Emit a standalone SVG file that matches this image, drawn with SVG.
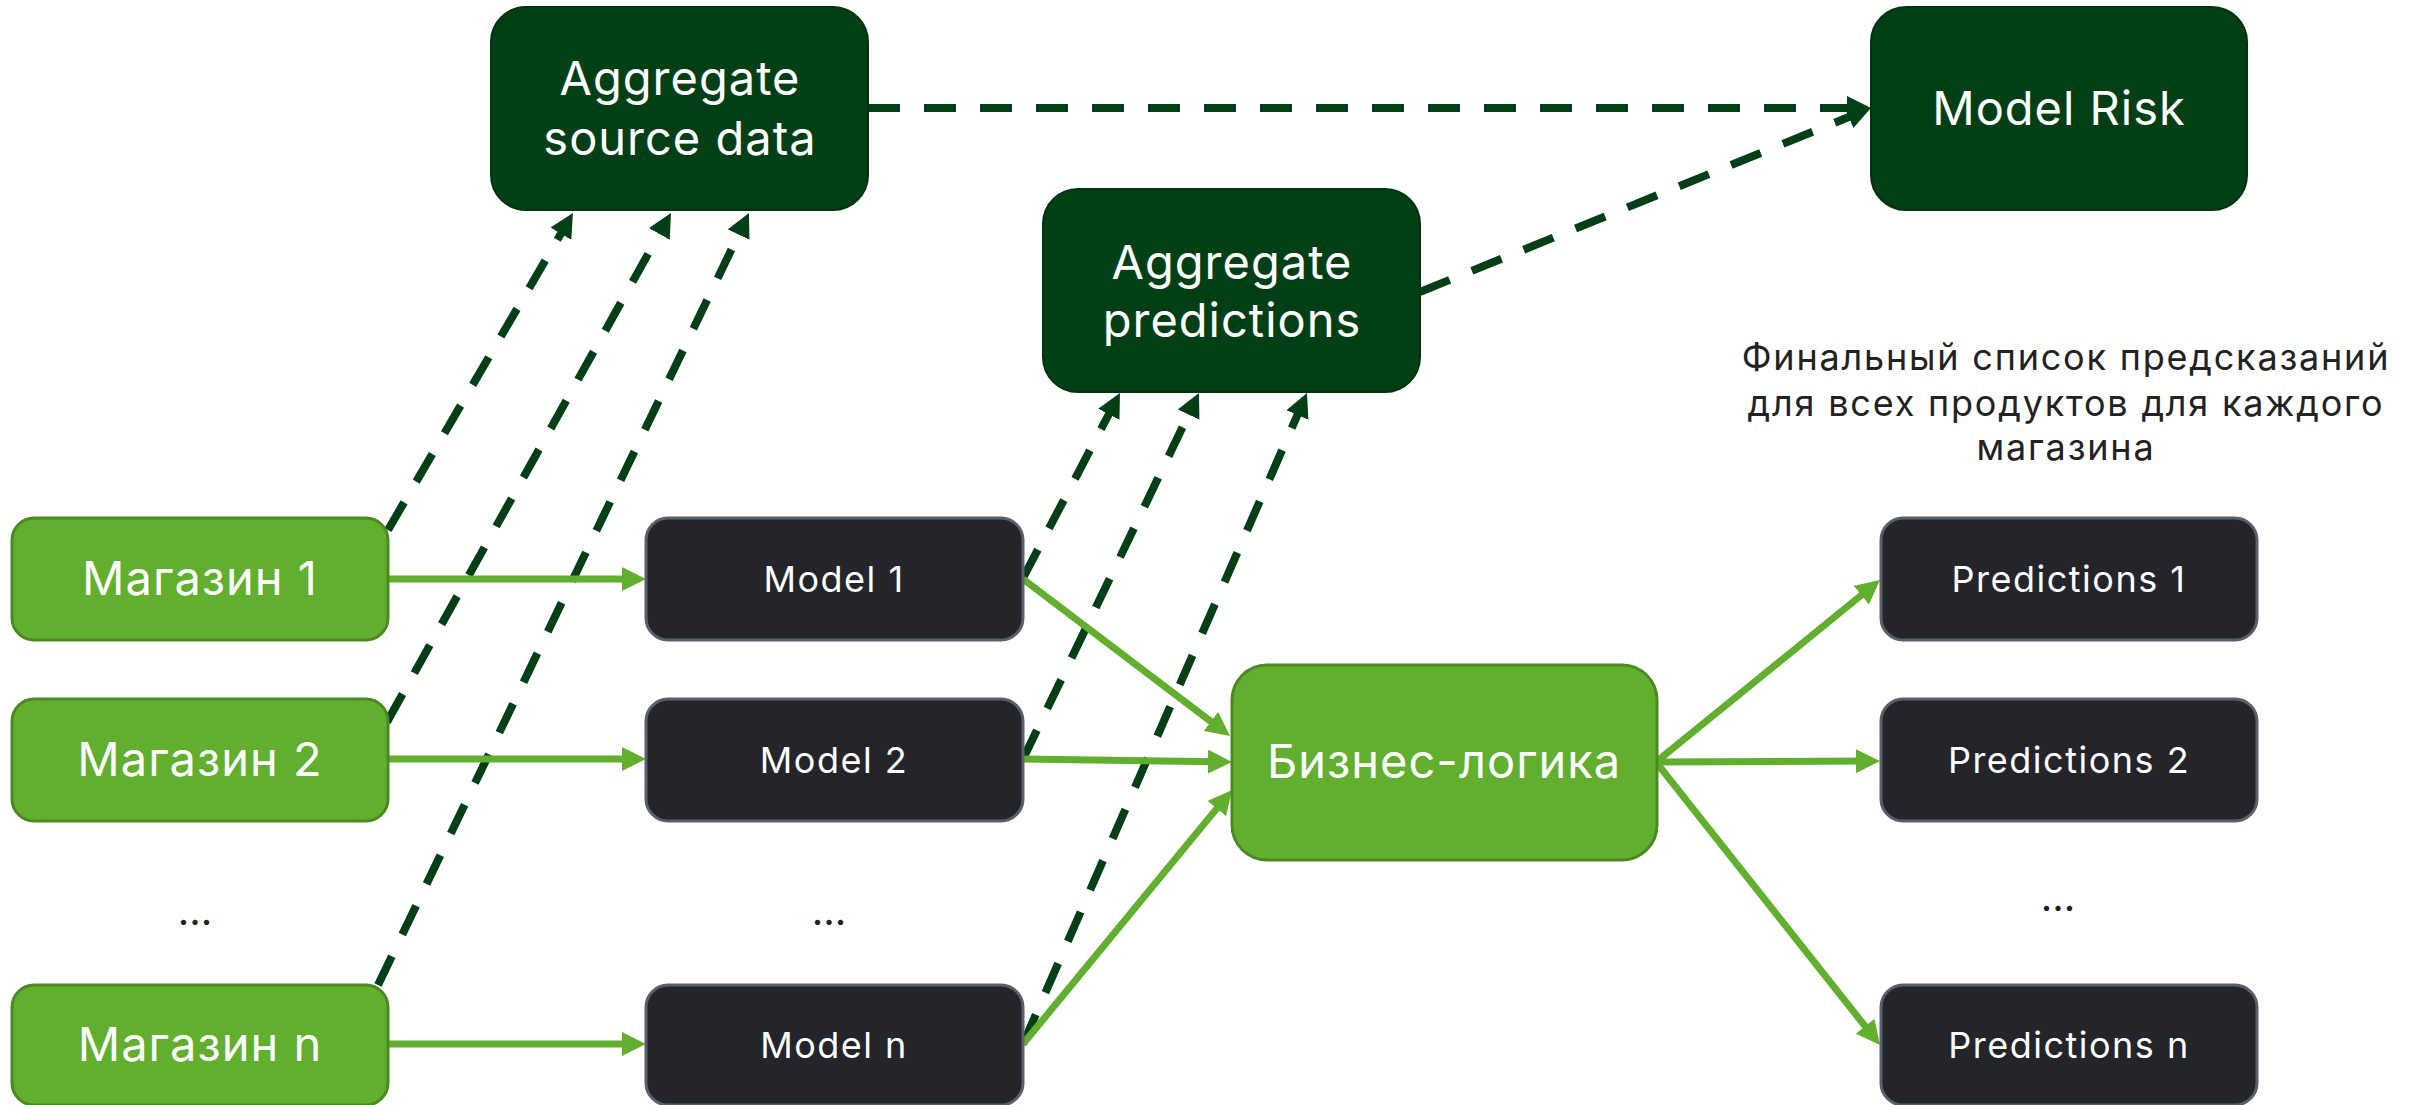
<svg xmlns="http://www.w3.org/2000/svg" width="2409" height="1105" viewBox="0 0 2409 1105">
<defs>
<style>
.dk{fill:#023f16;stroke:#01330f;stroke-width:2}
.lg{fill:#62ae2f;stroke:#4b8a22;stroke-width:3}
.bx{fill:#24252a;stroke:#5a606b;stroke-width:3}
.t{font-family:Inter,"Noto Sans",sans-serif;fill:#ffffff;text-anchor:middle}
.big{font-size:47px;letter-spacing:1px}
.sm{font-size:36px;letter-spacing:1.5px}
.cap{font-family:Inter,"Noto Sans",sans-serif;fill:#222222;font-size:36px;letter-spacing:1.8px;text-anchor:middle}
.dots{font-family:Inter,"Noto Sans",sans-serif;fill:#222222;font-size:40px;text-anchor:middle}
.g{stroke:#62ae2f;stroke-width:7;fill:none}
.d{stroke:#023f16;stroke-width:8;fill:none;stroke-dasharray:32 24}
</style>
<marker id="ag" markerUnits="userSpaceOnUse" markerWidth="24" markerHeight="24" refX="6" refY="12" orient="auto"><path d="M0,0 L24,12 L0,24 z" fill="#62ae2f"/></marker>
<marker id="ad" markerUnits="userSpaceOnUse" markerWidth="24" markerHeight="24" refX="6" refY="12" orient="auto"><path d="M0,0 L24,12 L0,24 z" fill="#023f16"/></marker>
</defs>
<rect width="2409" height="1105" fill="#ffffff"/>
<g id="connectors">
<line class="d" x1="388" y1="530" x2="563.9" y2="228.5" marker-end="url(#ad)"/>
<line class="d" x1="387" y1="722" x2="662.2" y2="228.7" marker-end="url(#ad)"/>
<line class="d" x1="378" y1="985" x2="741.2" y2="229.2" marker-end="url(#ad)"/>
<line class="d" x1="1023" y1="578" x2="1111.6" y2="409" marker-end="url(#ad)"/>
<line class="d" x1="1023" y1="759" x2="1191.2" y2="409.2" marker-end="url(#ad)"/>
<line class="d" x1="1023" y1="1044" x2="1299.8" y2="409.5" marker-end="url(#ad)"/>
<line class="d" x1="868" y1="108" x2="1853" y2="108" marker-end="url(#ad)"/>
<line class="d" x1="1420" y1="292" x2="1854.3" y2="114.8" marker-end="url(#ad)"/>
<line class="g" x1="388" y1="579" x2="628" y2="579" marker-end="url(#ag)"/>
<line class="g" x1="388" y1="759" x2="628" y2="759" marker-end="url(#ag)"/>
<line class="g" x1="388" y1="1044" x2="628" y2="1044" marker-end="url(#ag)"/>
<line class="g" x1="1023" y1="579" x2="1215.7" y2="725.1" marker-end="url(#ag)"/>
<line class="g" x1="1023" y1="759" x2="1214" y2="761.7" marker-end="url(#ag)"/>
<line class="g" x1="1023" y1="1044" x2="1220.6" y2="803.9" marker-end="url(#ag)"/>
<line class="g" x1="1656" y1="762" x2="1866" y2="591.4" marker-end="url(#ag)"/>
<line class="g" x1="1656" y1="762" x2="1862" y2="761.1" marker-end="url(#ag)"/>
<line class="g" x1="1656" y1="762" x2="1868.8" y2="1030.9" marker-end="url(#ag)"/>
</g>
<g id="agg-source"><rect class="dk" x="491" y="7" width="377" height="203" rx="35"/><text class="t big" x="680" y="95">Aggregate</text><text class="t big" x="680" y="155">source data</text></g>
<g id="agg-pred"><rect class="dk" x="1043" y="189" width="377" height="203" rx="35"/><text class="t big" x="1232" y="279">Aggregate</text><text class="t big" x="1232" y="337">predictions</text></g>
<g id="model-risk"><rect class="dk" x="1871" y="7" width="376" height="203" rx="35"/><text class="t big" x="2059" y="125">Model Risk</text></g>
<g id="shop1"><rect class="lg" x="12" y="518" width="376" height="122" rx="22"/><text class="t big" x="200" y="595">Магазин 1</text></g>
<g id="shop2"><rect class="lg" x="12" y="699" width="376" height="122" rx="22"/><text class="t big" x="200" y="776">Магазин 2</text></g>
<g id="shopn"><rect class="lg" x="12" y="985" width="376" height="120" rx="22"/><text class="t big" x="200" y="1061">Магазин n</text></g>
<g id="model1"><rect class="bx" x="646" y="518" width="377" height="122" rx="22"/><text class="t sm" x="834" y="592">Model 1</text></g>
<g id="model2"><rect class="bx" x="646" y="699" width="377" height="122" rx="22"/><text class="t sm" x="834" y="773">Model 2</text></g>
<g id="modeln"><rect class="bx" x="646" y="985" width="377" height="120" rx="22"/><text class="t sm" x="834" y="1058">Model n</text></g>
<g id="business"><rect class="lg" x="1232" y="665" width="425" height="195" rx="35"/><text class="t big" x="1444" y="778">Бизнес-логика</text></g>
<g id="pred1"><rect class="bx" x="1881" y="518" width="376" height="122" rx="22"/><text class="t sm" x="2069" y="592">Predictions 1</text></g>
<g id="pred2"><rect class="bx" x="1881" y="699" width="376" height="122" rx="22"/><text class="t sm" x="2069" y="773">Predictions 2</text></g>
<g id="predn"><rect class="bx" x="1881" y="985" width="376" height="120" rx="22"/><text class="t sm" x="2069" y="1058">Predictions n</text></g>
<g id="caption"><text class="cap" x="2066" y="370">Финальный список предсказаний</text><text class="cap" x="2066" y="416">для всех продуктов для каждого</text><text class="cap" x="2066" y="460">магазина</text></g>
<g id="ellipses"><text class="dots" x="195" y="925">...</text><text class="dots" x="829" y="925">...</text><text class="dots" x="2058" y="911">...</text></g>
</svg>
